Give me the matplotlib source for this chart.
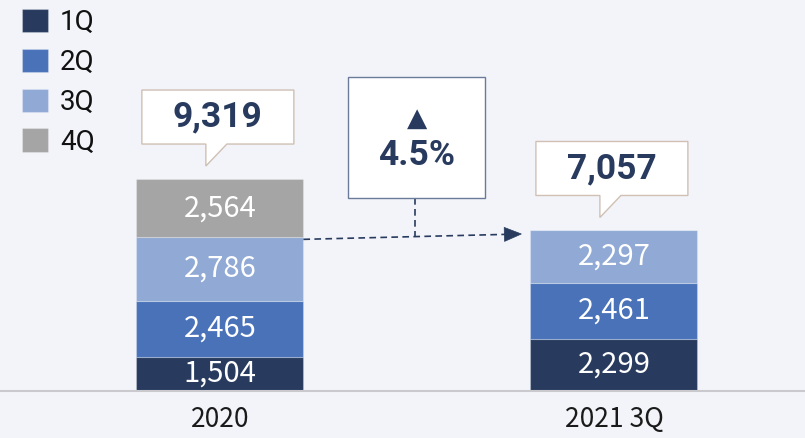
import matplotlib
matplotlib.use('Agg')
import matplotlib.pyplot as plt
from matplotlib.patches import Polygon
from matplotlib.transforms import IdentityTransform
import numpy as np

categories = ['2020', '2021 3Q']
quarters = ['1Q', '2Q', '3Q', '4Q']
q1 = [1504, 2299]
q2 = [2465, 2461]
q3 = [2786, 2297]
q4 = [2564, 0]
total_labels = ['9,319', '7,057']
growth_label = '4.5%'

colors = ['#283b5f', '#4a72b9', '#91aad5', '#a5a5a5']
BG = '#f2f4f9'
NAVY = '#283b5f'
W, H = 805, 438

fig = plt.figure(figsize=(W / 100, H / 100), dpi=100, facecolor=BG)
ax = fig.add_axes([0, 47 / H, 1, 391 / H])
ax.set_facecolor(BG)

x = np.arange(len(categories))
width = 0.424
series = [q1, q2, q3, q4]
bottom = np.zeros(len(categories))
cum3 = None
for i, (name, vals, c) in enumerate(zip(quarters, series, colors)):
    vals = np.array(vals, float)
    cont = ax.bar(x, vals, width, bottom=bottom, color=c, label=name,
                  edgecolor=(1, 1, 1, 0.25), linewidth=0.8, zorder=2)
    labels = [f'{v:,.0f}' if v > 0 else '' for v in vals]
    ax.bar_label(cont, labels=labels, label_type='center', color='white',
                 fontsize=21, fontweight='light',
                 family=['Noto Sans CJK KR', 'DejaVu Sans'])
    bottom = bottom + vals
    if name == '3Q':
        cum3 = bottom.copy()
totals = bottom

ax.set_xlim(-0.558, 1.485)
ax.set_ylim(0, 17190)
for s in ['top', 'left', 'right']:
    ax.spines[s].set_visible(False)
ax.spines['bottom'].set_color('#c9c9ce')
ax.spines['bottom'].set_linewidth(1.5)
ax.set_yticks([])
ax.set_xticks(x)
ax.set_xticklabels(categories, fontsize=19, color='#1a1a1a',
                   family=['Noto Sans CJK KR', 'DejaVu Sans'])
ax.tick_params(axis='x', length=0, pad=10.5)

ID = IdentityTransform()


def px(xd, yd):
    d = ax.transData.transform((xd, yd))
    return d[0], d[1]


# total callouts
for i in range(len(categories)):
    cx, ty = px(x[i], totals[i])
    B = ty + 35
    T = B + 54
    L = cx - 78
    R = cx + 74
    tip = ty + 13
    pts = [(L, T), (R, T), (R, B), (cx + 7, B), (cx - 14, tip), (cx - 14, B), (L, B)]
    poly = Polygon(pts, closed=True, transform=ID, facecolor='white',
                   edgecolor='#cfc0b3', linewidth=1.0, zorder=5)
    fig.add_artist(poly)
    fig.text(cx - 2, (T + B) / 2, total_labels[i], transform=ID, ha='center',
             va='center', fontsize=25.5, fontweight='bold', family='Roboto',
             color=NAVY, zorder=6)

# growth arrow
sx, sy = px(x[0] + width / 2, cum3[0])
ex, ey = px(x[1] - width / 2, cum3[1])
sy -= 2
ex -= 9
ey -= 3.5
d = np.array([ex - sx, ey - sy])
u = d / np.hypot(*d)
n = np.array([-u[1], u[0]])
hl, hw = 17, 7
base = np.array([ex, ey]) - u * hl
fig.add_artist(plt.Line2D([sx, base[0] + u[0] * 2], [sy, base[1] + u[1] * 2],
                          transform=ID, color=NAVY, linewidth=1.2,
                          linestyle=(0, (4, 2.6)), zorder=4))
head = Polygon([(ex, ey), tuple(base + n * hw), tuple(base - n * hw)], closed=True,
               transform=ID, facecolor=NAVY, edgecolor=NAVY, linewidth=0.5, zorder=4)
fig.add_artist(head)

# growth box
mid = (px(x[0], 0)[0] + px(x[1], 0)[0]) / 2
_, t2 = px(x[1], totals[1])
gB = t2 + 32
gT = gB + 121
gL, gR = mid - 69, mid + 68
box = Polygon([(gL, gT), (gR, gT), (gR, gB), (gL, gB)], closed=True, transform=ID,
              facecolor='white', edgecolor='#6a7a99', linewidth=1.0, zorder=5)
fig.add_artist(box)
vx = mid - 2
vy = sy + (vx - sx) / (ex - sx) * (ey - sy)
fig.add_artist(plt.Line2D([vx, vx], [gB, vy + 1], transform=ID, color=NAVY,
                          linewidth=1.2, linestyle=(0, (4, 2.6)), zorder=4))
fig.text(mid, gT - 41, '▲', transform=ID, ha='center', va='center',
         fontsize=19, family='DejaVu Sans', color=NAVY, zorder=6)
fig.text(mid, gT - 78, growth_label, transform=ID, ha='center', va='center',
         fontsize=25.5, fontweight='bold', family='Roboto', color=NAVY, zorder=6)

# legend
leg = ax.legend(loc='upper left', bbox_to_anchor=(22 / W, 1 - 9 / H),
                bbox_transform=fig.transFigure, frameon=False,
                prop={'family': 'Roboto', 'size': 20},
                handlelength=0.92, handleheight=0.92, handletextpad=0.45,
                labelspacing=0.45, borderpad=0, borderaxespad=0)
for t in leg.get_texts():
    t.set_color('#111111')

fig.savefig('out.png', dpi=100, facecolor=BG)
